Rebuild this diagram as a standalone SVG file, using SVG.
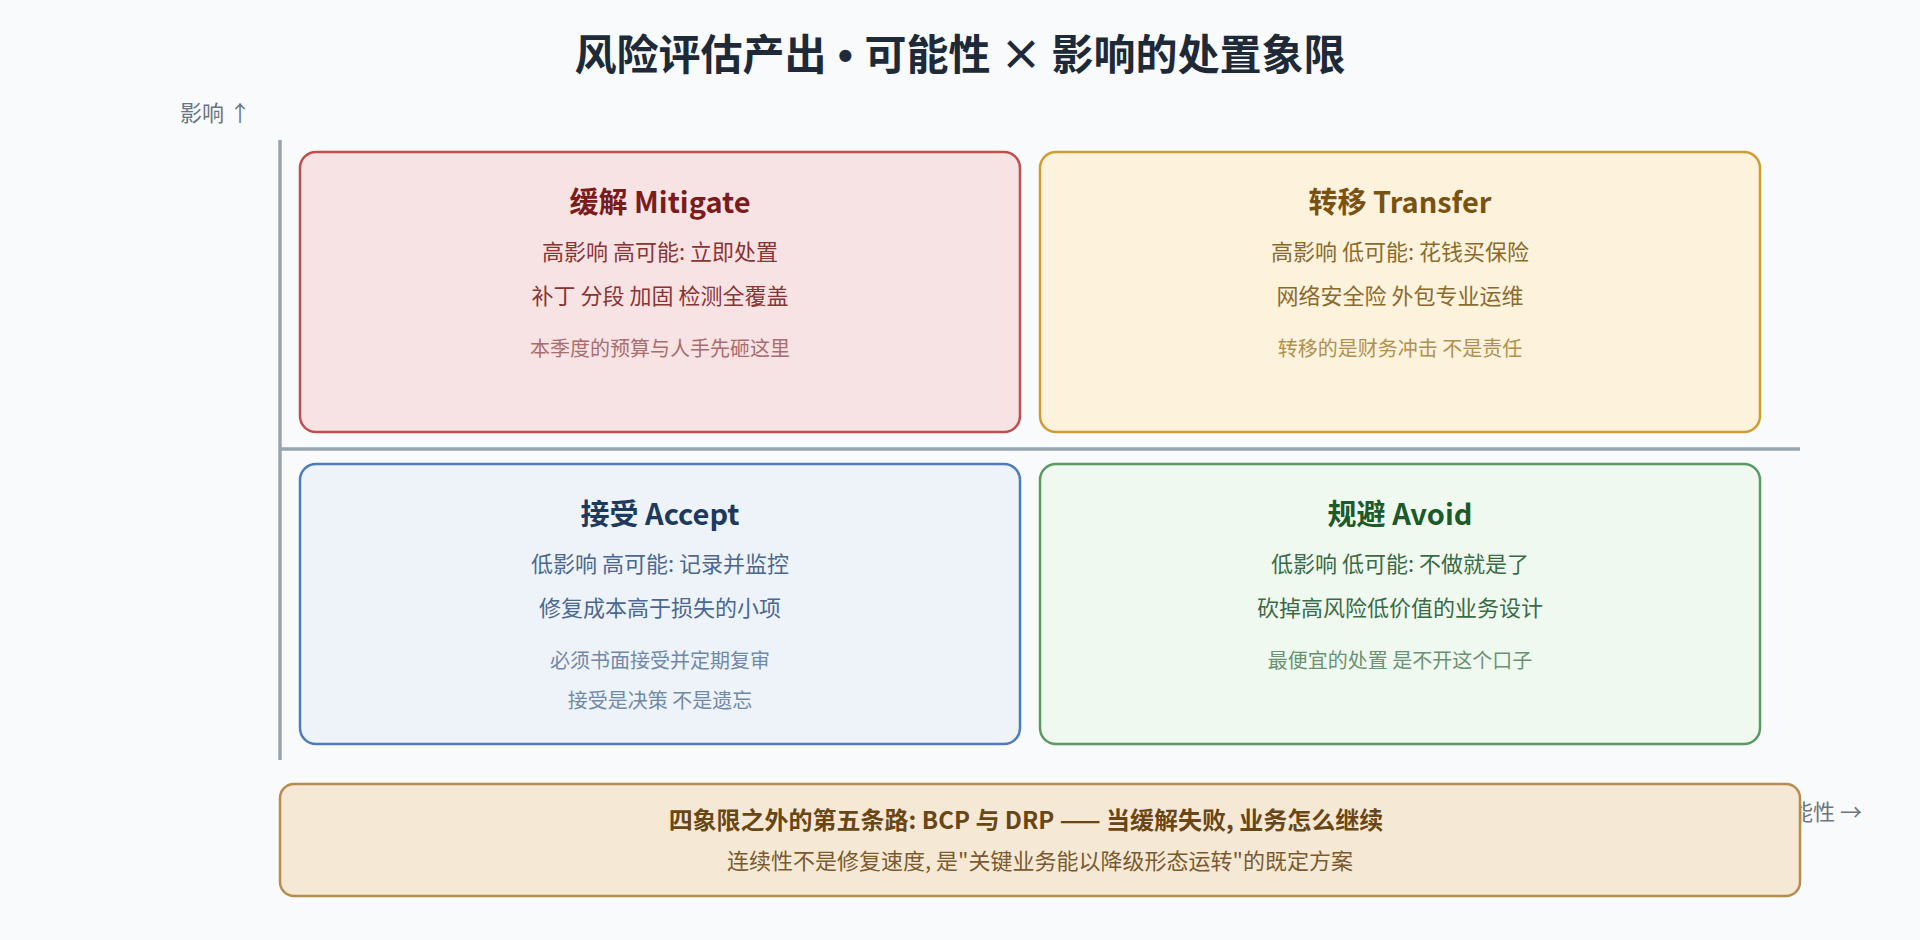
<svg xmlns="http://www.w3.org/2000/svg" width="1920" height="940" viewBox="0 0 1920 940">
<style>
text{font-family:"Noto Sans CJK SC","Noto Sans",sans-serif;text-anchor:middle}
.title{font-size:42px;font-weight:700;fill:#1e2a38}
.axis{font-size:22px;fill:#6b7482}
.qt{font-size:29px;font-weight:700}
.l{font-size:22px}
.s{font-size:20px}
.box{stroke-width:2.5}
</style>
<rect width="1920" height="940" fill="#f8fafc"/>
<text class="title" x="960" y="70">风险评估产出<tspan style="font-family:'Liberation Sans',sans-serif"> • </tspan>可能性 × 影响的处置象限</text>
<text class="axis" x="180" y="121" style="text-anchor:start">影响 ↑</text>
<text class="axis" x="1862" y="820" style="text-anchor:end">可能性 →</text>
<g id="axes" stroke="#9aa3b0" stroke-width="3.5">
<line x1="280" y1="140" x2="280" y2="760"/>
<line x1="280" y1="449" x2="1800" y2="449"/>
</g>
<g id="mitigate">
<rect class="box" x="300" y="152" width="720" height="280" rx="16" fill="#f8e3e4" stroke="#bf4f4f"/>
<text class="qt" x="660" y="213" fill="#7a1c1c">缓解 Mitigate</text>
<text class="l" x="660" y="260" fill="#8a3434">高影响 高可能: 立即处置</text>
<text class="l" x="660" y="304" fill="#8a3434">补丁 分段 加固 检测全覆盖</text>
<text class="s" x="660" y="356" fill="#a86d6d">本季度的预算与人手先砸这里</text>
</g>
<g id="transfer">
<rect class="box" x="1040" y="152" width="720" height="280" rx="16" fill="#fdf2dc" stroke="#cf9c34"/>
<text class="qt" x="1400" y="213" fill="#7a5210">转移 Transfer</text>
<text class="l" x="1400" y="260" fill="#8c6a2c">高影响 低可能: 花钱买保险</text>
<text class="l" x="1400" y="304" fill="#8c6a2c">网络安全险 外包专业运维</text>
<text class="s" x="1400" y="356" fill="#b0904e">转移的是财务冲击 不是责任</text>
</g>
<g id="accept">
<rect class="box" x="300" y="464" width="720" height="280" rx="16" fill="#eef3fa" stroke="#4e7cb8"/>
<text class="qt" x="660" y="525" fill="#1c3a5e">接受 Accept</text>
<text class="l" x="660" y="572" fill="#4a6890">低影响 高可能: 记录并监控</text>
<text class="l" x="660" y="616" fill="#4a6890">修复成本高于损失的小项</text>
<text class="s" x="660" y="668" fill="#7189a8">必须书面接受并定期复审</text>
<text class="s" x="660" y="708" fill="#7189a8">接受是决策 不是遗忘</text>
</g>
<g id="avoid">
<rect class="box" x="1040" y="464" width="720" height="280" rx="16" fill="#f0f9f0" stroke="#5a9a62"/>
<text class="qt" x="1400" y="525" fill="#1c5a2a">规避 Avoid</text>
<text class="l" x="1400" y="572" fill="#3a6a46">低影响 低可能: 不做就是了</text>
<text class="l" x="1400" y="616" fill="#3a6a46">砍掉高风险低价值的业务设计</text>
<text class="s" x="1400" y="668" fill="#6a9272">最便宜的处置 是不开这个口子</text>
</g>
<g id="bcp">
<rect x="280" y="784" width="1520" height="112" rx="14" fill="#f5e9d6" stroke="#b88c4e" stroke-width="2.5"/>
<text x="1026" y="829" style="font-size:24px;font-weight:700" fill="#6a4614">四象限之外的第五条路: BCP 与 DRP —— 当缓解失败, 业务怎么继续</text>
<text x="1040" y="869" style="font-size:22px" fill="#7a5a2e">连续性不是修复速度, 是"关键业务能以降级形态运转"的既定方案</text>
</g>
</svg>
